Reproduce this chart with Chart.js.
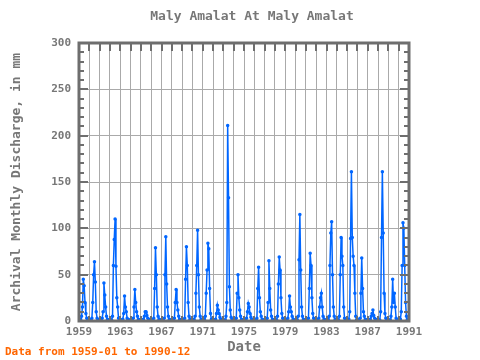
<!DOCTYPE html>
<html>
<head>
<meta charset="utf-8">
<title>Maly Amalat At Maly Amalat</title>
<script src="https://cdn.jsdelivr.net/npm/chart.js@4.4.1/dist/chart.umd.min.js"></script>
<style>
  html, body { margin: 0; padding: 0; background: #fff; }
  #wrap { width: 480px; height: 360px; }
</style>
</head>
<body>
<div id="wrap"><canvas id="chart" width="480" height="360"></canvas></div>
<script>
// monthly discharge, mm, 1959-01 .. 1990-12 (one row per year)
const firstYear = 1959;
const discharge = [
  1, 1, 2, 5, 15, 45, 38, 20, 8, 3, 2, 1,        // 1959
  1, 1, 1, 3, 20, 50, 64, 42, 10, 3, 1, 1,       // 1960
  1, 1, 1, 3, 10, 41, 28, 15, 5, 2, 1, 1,        // 1961
  1, 1, 1, 5, 60, 88, 110, 59, 25, 15, 3, 1,     // 1962
  1, 1, 1, 2, 8, 27, 15, 10, 3, 1, 1, 1,         // 1963
  1, 1, 1, 3, 15, 34, 20, 10, 5, 2, 1, 1,        // 1964
  1, 1, 1, 2, 5, 10, 10, 6, 3, 2, 1, 1,          // 1965
  1, 1, 1, 3, 35, 79, 50, 15, 5, 2, 1, 1,        // 1966
  1, 1, 1, 3, 50, 91, 40, 15, 5, 2, 1, 1,        // 1967
  1, 1, 1, 3, 20, 34, 20, 12, 5, 2, 1, 1,        // 1968
  1, 1, 1, 3, 45, 80, 60, 20, 5, 2, 1, 1,        // 1969
  1, 1, 2, 5, 30, 60, 98, 50, 15, 5, 2, 1,       // 1970
  1, 1, 2, 5, 30, 55, 84, 78, 35, 8, 2, 1,       // 1971
  1, 1, 1, 2, 8, 17, 12, 8, 4, 2, 1, 1,          // 1972
  1, 1, 1, 5, 20, 211, 133, 37, 12, 4, 2, 1,     // 1973
  1, 1, 1, 3, 30, 50, 25, 12, 5, 2, 1, 1,        // 1974
  1, 1, 1, 3, 10, 19, 15, 8, 4, 2, 1, 1,         // 1975
  1, 1, 1, 3, 35, 58, 25, 10, 5, 2, 1, 1,        // 1976
  1, 1, 1, 3, 20, 65, 35, 12, 5, 2, 1, 1,        // 1977
  1, 1, 1, 5, 40, 69, 55, 25, 8, 3, 1, 1,        // 1978
  1, 1, 1, 3, 10, 27, 15, 10, 5, 2, 1, 1,        // 1979
  1, 1, 1, 5, 66, 115, 55, 15, 5, 2, 1, 1,       // 1980
  1, 1, 1, 3, 35, 73, 60, 25, 8, 3, 1, 1,        // 1981
  1, 1, 1, 3, 15, 25, 30, 15, 5, 2, 1, 1,        // 1982
  1, 1, 2, 5, 60, 95, 107, 50, 15, 5, 2, 1,      // 1983
  1, 1, 1, 5, 50, 90, 70, 60, 15, 3, 1, 1,       // 1984
  1, 1, 2, 10, 89, 161, 90, 70, 60, 30, 5, 1,    // 1985
  1, 1, 1, 3, 30, 68, 35, 10, 5, 2, 1, 1,        // 1986
  1, 1, 1, 2, 5, 8, 12, 6, 3, 2, 1, 1,           // 1987
  1, 1, 1, 10, 90, 161, 95, 30, 8, 3, 1, 1,      // 1988
  1, 1, 1, 5, 15, 45, 20, 30, 15, 3, 1, 1,       // 1989
  1, 1, 2, 10, 60, 106, 100, 60, 20, 5, 2, 1     // 1990
];
const xTickLabels = [1959, 1963, 1967, 1971, 1975, 1979, 1983, 1987, 1991];
const yTickLabels = [0, 50, 100, 150, 200, 250, 300];

const points = discharge.map((v, i) => ({ x: firstYear + i / 12, y: v }));

const axisGray = '#6e6e6e';
const textGray = '#777777';
const mono = '"DejaVu Sans Mono", monospace';

// title, inward tick marks, frame and the footer note
const framePlugin = {
  id: 'frame',
  afterDraw(chart) {
    const ctx = chart.ctx;
    const a = chart.chartArea;
    const x = chart.scales.x, y = chart.scales.y;
    ctx.save();
    ctx.strokeStyle = axisGray;
    ctx.lineWidth = 2;
    ctx.beginPath();
    for (let yr = 1959; yr <= 1991; yr++) {
      const px = Math.round(x.getPixelForValue(yr));
      ctx.moveTo(px, a.top); ctx.lineTo(px, a.top + 8);
      ctx.moveTo(px, a.bottom); ctx.lineTo(px, a.bottom - 5);
    }
    for (let v = 0; v <= 300; v += 10) {
      const py = Math.round(y.getPixelForValue(v));
      const len = v % 50 === 0 ? 9 : 5;
      ctx.moveTo(a.left, py); ctx.lineTo(a.left + len, py);
      ctx.moveTo(a.right, py); ctx.lineTo(a.right - len, py);
    }
    ctx.stroke();
    ctx.lineWidth = 3;
    ctx.strokeRect(a.left, a.top, a.right - a.left, a.bottom - a.top);

    ctx.textBaseline = 'middle';
    ctx.fillStyle = textGray;
    ctx.font = 'bold 13px ' + mono;
    ctx.textAlign = 'center';
    ctx.fillText('Maly Amalat At Maly Amalat', 252, 17);

    ctx.fillStyle = '#ff6600';
    ctx.font = 'bold 11px ' + mono;
    ctx.textAlign = 'left';
    ctx.fillText('Data from 1959-01 to 1990-12', 5, 352);
    ctx.restore();
  }
};

new Chart(document.getElementById('chart'), {
  type: 'line',
  data: {
    datasets: [{
      data: points,
      borderColor: '#0066ff',
      backgroundColor: '#0066ff',
      borderWidth: 1.5,
      pointRadius: 1,
      pointHoverRadius: 1,
      tension: 0
    }]
  },
  options: {
    responsive: false,
    animation: false,
    devicePixelRatio: 1,
    layout: { padding: { left: 0, right: 71, top: 43, bottom: 0 } },
    plugins: {
      legend: { display: false },
      tooltip: { enabled: false },
      title: { display: false }
    },
    scales: {
      x: {
        type: 'linear',
        min: 1959,
        max: 1991,
        afterFit(scale) { scale.height = 39; },
        afterBuildTicks(scale) {
          const t = [];
          for (let yr = 1959; yr <= 1991; yr++) t.push({ value: yr });
          scale.ticks = t;
        },
        ticks: {
          autoSkip: false,
          maxRotation: 0,
          color: textGray,
          padding: 5,
          font: { family: mono, size: 11, weight: 'bold' },
          callback: (v) => xTickLabels.includes(v) ? String(v) : ''
        },
        grid: { color: '#aaaaaa', lineWidth: 1, drawTicks: false },
        border: { display: false },
        title: {
          display: true,
          text: 'Date',
          color: textGray,
          font: { family: mono, size: 14, weight: 'bold' },
          padding: { top: 0, bottom: 4 }
        }
      },
      y: {
        min: 0,
        max: 300,
        afterFit(scale) { scale.width = 79; },
        afterBuildTicks(scale) {
          scale.ticks = yTickLabels.map(v => ({ value: v }));
        },
        ticks: {
          color: textGray,
          padding: 8,
          font: { family: mono, size: 11, weight: 'bold' }
        },
        grid: { color: '#aaaaaa', lineWidth: 1, drawTicks: false },
        border: { display: false },
        title: {
          display: true,
          text: 'Archival Monthly Discharge, in mm',
          color: textGray,
          font: { family: mono, size: 13, weight: 'bold' },
          padding: { top: 9, bottom: 9 }
        }
      }
    }
  },
  plugins: [framePlugin]
});
</script>
</body>
</html>
